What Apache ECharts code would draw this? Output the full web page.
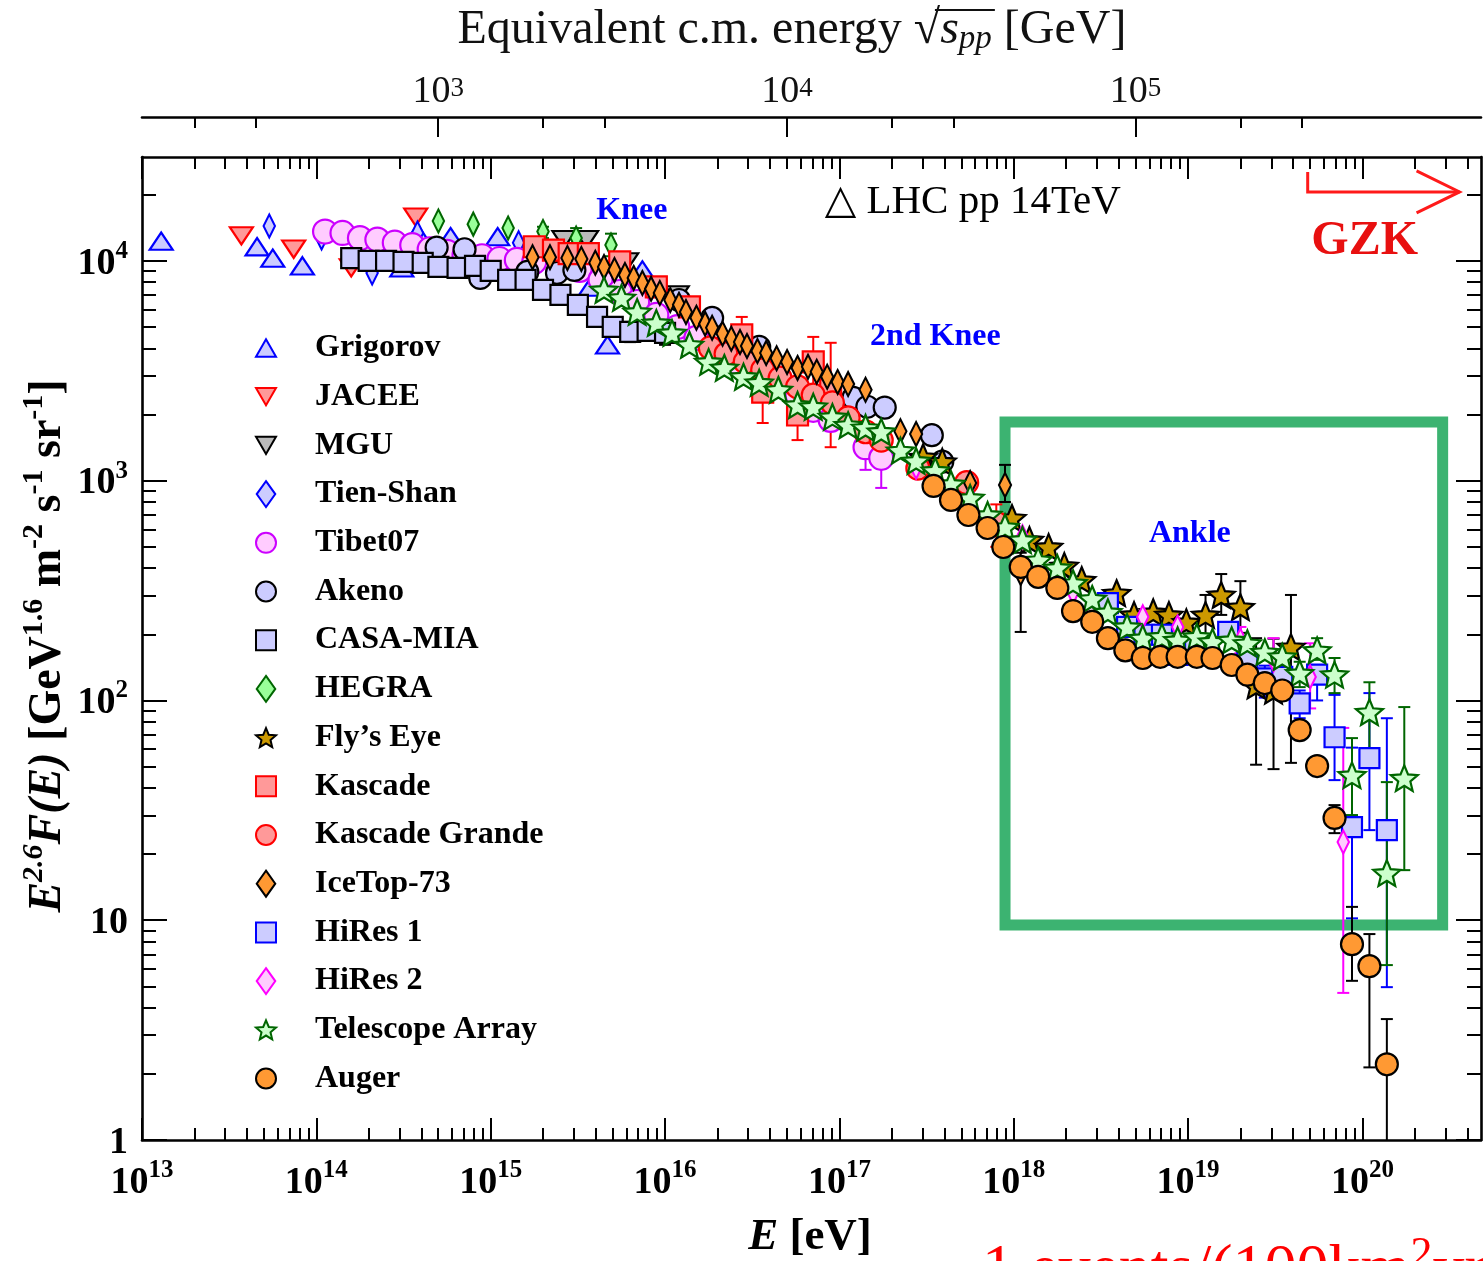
<!DOCTYPE html>
<html>
<head>
<meta charset="utf-8">
<title>Cosmic-ray all-particle energy spectrum</title>
<script src="https://cdn.jsdelivr.net/npm/echarts@6.0.0/dist/echarts.min.js"></script>
<style>
  html, body { margin: 0; padding: 0; background: #fff; }
  #chart { width: 1483px; height: 1261px; }
</style>
</head>
<body>
<div id="chart"></div>
<script>
// ---------- Measurements: [log10(E / eV), E^2.6 F(E)] ----------
const grigorov = [[13.11,12300],[13.66,11600],[13.75,10300],[13.92,9500],[14.49,9300],[14.58,13400],[14.77,12900],[15.04,12900],[15.57,7600],[15.67,4150],[15.87,9100]];
const jacee = [[13.57,13000],[13.87,11300],[14.20,9300],[14.57,15800]];
const mgu = [[15.42,12500],[15.55,12500],[15.78,9900],[16.07,7000]];
const tienShan = [[13.73,14400],[14.03,12700],[14.32,8800],[14.58,13400],[15.16,12100]];
const tibet07 = [[14.05,13600],[14.15,13400],[14.25,12700],[14.35,12500],[14.45,12100],[14.55,11800],[14.65,11300],[14.75,11000],[14.85,10600],[14.95,10500],[15.05,10200],[15.15,10100],[15.25,9900],[15.51,9100],[15.63,8200],[15.74,7220],[15.84,6500],[15.95,5680],[16.07,5000],[16.18,4460],[16.30,3930],[16.41,3470],[16.53,3090],[16.64,2720],[16.76,2450],[16.85,2100],[16.95,1890],[17.15,1420],[17.24,1270]];
const tibet07Err = [[17.15,1120,1560],[17.24,927,1450]];
const akeno = [[14.69,11500],[14.85,11300],[14.94,8370],[15.21,8910],[15.38,8820],[15.48,9100],[16.08,6640],[16.27,5500],[16.54,4060],[17.08,2380],[17.16,2170],[17.26,2150],[17.53,1610],[17.59,1220]];
const casaMia = [[14.20,10300],[14.30,10000],[14.40,10000],[14.50,9900],[14.61,9800],[14.70,9390],[14.81,9290],[14.91,9490],[15.00,9000],[15.10,8200],[15.20,8200],[15.30,7380],[15.40,7000],[15.50,6310],[15.61,5560],[15.70,5010],[15.80,4750],[15.90,4800],[16.00,4700]];
const casaMiaErr = [[15.80,4270,5280],[15.90,4500,5120],[16.00,4150,5320]];
const hegra = [[14.70,15200],[14.90,14700],[15.10,14100],[15.30,13600],[15.49,12700],[15.69,11800]];
const hegraErr = [[15.30,12700,14300],[15.49,11500,14100],[15.69,10500,13300]];
const flysEye = [[17.48,1280],[17.59,1220],[17.99,676],[18.09,537],[18.20,499],[18.29,409],[18.39,353],[18.59,308],[18.69,245],[18.80,252],[18.89,245],[18.99,227],[19.10,245],[19.19,302],[19.30,266],[19.39,117],[19.49,111],[19.59,175]];
const flysEyeErr = [[19.10,198,302],[19.19,245,376],[19.30,203,349],[19.39,51,192],[19.49,48.7,191],[19.59,52,302]];
const kascade = [[15.25,11600],[15.36,11200],[15.45,10800],[15.56,10800],[15.74,9900],[15.95,7610],[16.14,6180],[16.44,4610],[16.56,2530],[16.76,1990],[16.85,3470],[16.95,2590]];
const kascadeErr = [[16.44,3190,5560],[16.56,1830,3430],[16.76,1530,2590],[16.85,2590,4510],[16.95,1420,4240]];
const kascadeGrande = [[16.26,4020],[16.35,3770],[16.46,3470],[16.56,3190],[16.66,2930],[16.76,2670],[16.85,2450],[16.96,2260],[17.05,1930],[17.15,1670],[17.24,1530],[17.45,1140],[17.73,980],[17.90,640]];
const kascadeGrandeErr = [[17.90,500,780]];
const iceTop73 = [[15.24,10400],[15.34,10400],[15.44,10300],[15.52,10200],[15.60,9800],[15.65,9390],[15.71,9100],[15.77,8630],[15.82,8370],[15.87,7940],[15.92,7460],[15.97,7150],[16.03,6640],[16.08,6310],[16.12,5860],[16.18,5510],[16.23,5170],[16.27,4960],[16.33,4660],[16.38,4420],[16.43,4280],[16.47,4100],[16.53,3890],[16.58,3810],[16.64,3610],[16.70,3470],[16.76,3260],[16.82,3300],[16.87,3130],[16.93,2970],[16.99,2810],[17.05,2750],[17.15,2590],[17.35,1680],[17.44,1630],[17.75,977],[17.95,955],[18.04,380]];
const iceTop73Err = [[17.95,800,1180],[18.04,205,470]];
const hiRes1 = [[18.54,277],[18.65,216],[18.75,199],[18.85,199],[18.94,161],[19.04,173],[19.23,205],[19.34,153],[19.44,126],[19.54,128],[19.64,97],[19.74,131],[19.84,68],[19.94,26.5],[20.04,54.7],[20.14,25.7]];
const hiRes1Err = [[19.44,103,144],[19.54,104,137],[19.64,83,111],[19.74,100,142],[19.84,43.4,106],[19.94,10.2,61],[20.04,25.7,108],[20.14,4.96,83]];
const hiRes2 = [[17.44,1150],[17.75,843],[18.05,555],[18.34,311],[18.44,266],[18.74,240],[18.94,216],[19.30,188],[19.49,153],[19.70,128],[19.89,22.7]];
const hiRes2Err = [[19.30,164,216],[19.49,124,192],[19.70,92,182],[19.89,4.67,75]];
const telescopeArray = [[15.65,7380],[15.75,6790],[15.84,5860],[15.95,5220],[16.04,4700],[16.14,4150],[16.25,3470],[16.34,3260],[16.45,2970],[16.54,2790],[16.65,2590],[16.76,2210],[16.85,2170],[16.96,1950],[17.05,1790],[17.15,1740],[17.24,1670],[17.35,1370],[17.44,1230],[17.55,1110],[17.64,966],[17.75,834],[17.85,698],[17.95,615],[18.05,537],[18.14,435],[18.25,401],[18.34,342],[18.45,290],[18.54,252],[18.65,216],[18.74,192],[18.85,195],[18.94,188],[19.05,195],[19.14,185],[19.25,188],[19.34,182],[19.44,166],[19.54,158],[19.64,133],[19.74,169],[19.84,131],[19.94,45.7],[20.04,88.5],[20.14,16.4],[20.24,44.3]];
const telescopeArrayErr = [[19.64,115,150],[19.74,153,192],[19.84,108,156],[19.94,30.1,67.4],[20.04,59.4,121],[20.14,6.25,42.5],[20.24,16.9,93.3]];
const auger = [[17.54,946],[17.64,817],[17.74,698],[17.85,609],[17.94,499],[18.04,405],[18.14,365],[18.25,325],[18.34,255],[18.45,228],[18.54,192],[18.64,169],[18.74,156],[18.84,158],[18.94,158],[19.05,158],[19.14,156],[19.25,145],[19.34,131],[19.44,120],[19.54,111],[19.64,73.3],[19.74,50.3],[19.84,29.2],[19.94,7.78],[20.04,6.18],[20.14,2.21]];
const augerErr = [[19.84,24.9,33.4],[19.94,5.3,11.5],[20.04,2.14,8.65],[20.14,0.5,3.55]];

// Region of interest [lgE1, F1, lgE2, F2] and GZK cut-off marker [lgE start, F top, F line, lgE tip]
const ankleBox = [17.95, 1850, 20.46, 9.5];
const gzkArrow = [19.686, 25400, 20600, 20.557];
// Text notes [text, lgE, F]
const notes = [
  ['Knee', 15.81, 17000],
  ['2nd Knee', 17.55, 4510],
  ['Ankle', 19.01, 573],
  ['GZK', 20.013, 12200],
  ['\u25B3 LHC pp 14TeV', 16.99, 18550]
];

// Axis ranges
const lgMin = 13, lgMax = 20.68;
const fMin = 1, fMax = 2.97e4;
const xDecadeExp = [13, 14, 15, 16, 17, 18, 19, 20];
const yDecadeExp = [0, 1, 2, 3, 4];
const sDecadeExp = [3, 4, 5];

// ---------- helpers ----------
const serif = "'Liberation Serif', 'DejaVu Serif', serif";
const eMin = Math.pow(10, lgMin), eMax = Math.pow(10, lgMax);
const mp = 1.0; // proton mass, GeV (rounded)
const rootS = eV => Math.sqrt(2 * mp * eV / 1e9); // fixed-target equivalent sqrt(s) in GeV

const xMajor = xDecadeExp.map(n => Math.pow(10, n));
const xMinor = [];
xDecadeExp.forEach(n => { for (let k = 2; k <= 9; k++) { const v = k * Math.pow(10, n); if (v < eMax) xMinor.push(v); } });
const yMajor = yDecadeExp.map(n => Math.pow(10, n));
const yMinor = [];
yDecadeExp.forEach(n => { for (let k = 2; k <= 9; k++) { const v = k * Math.pow(10, n); if (v < fMax) yMinor.push(v); } });
const sMajor = sDecadeExp.map(n => Math.pow(10, n));
const sMinor = [];
[2, 3, 4, 5].forEach(n => [2, 3].forEach(k => { const v = k * Math.pow(10, n); if (v > rootS(eMin) && v < rootS(eMax)) sMinor.push(v); }));

const boldRich = {
  b: { fontFamily: serif, fontWeight: 'bold', fontSize: 38, lineHeight: 44, verticalAlign: 'bottom', color: '#000' },
  s: { fontFamily: serif, fontWeight: 'bold', fontSize: 25, lineHeight: 10, verticalAlign: 'top', color: '#000' }
};
const thinRich = {
  b: { fontFamily: serif, fontSize: 38, lineHeight: 36, verticalAlign: 'bottom', color: '#111' },
  s: { fontFamily: serif, fontSize: 27, lineHeight: 6, verticalAlign: 'top', color: '#111' }
};
function powLabel(v) {
  const e = Math.round(Math.log10(v));
  if (e === 0) return '{b|1}';
  if (e === 1) return '{b|10}';
  return '{b|10}{s|' + e + '}';
}

const axisLine = { show: true, onZero: false, lineStyle: { color: '#000', width: 2.6 } };
function tick(len, values) { return { show: true, inside: true, length: len, customValues: values, lineStyle: { color: '#000', width: 2 } }; }
function logAxis(extra) {
  return Object.assign({
    type: 'log', logBase: 10, silent: true,
    splitLine: { show: false }, minorTick: { show: false }, minorSplitLine: { show: false },
    axisLine: { show: false }, axisLabel: { show: false }
  }, extra);
}

// ---------- symbols ----------
const SYM = {
  triUp: 'path://M10,0L20,17.3L0,17.3Z',
  triDown: 'path://M0,0L20,0L10,17.3Z',
  diamond: 'path://M5,0L10,7L5,14L0,7Z',
  circle: 'circle',
  square: 'path://M0,0L10,0L10,10L0,10Z',
  star: 'path://M10,0L12.65,6.36L19.51,6.91L14.28,11.39L15.88,18.09L10,14.5L4.12,18.09L5.72,11.39L0.49,6.91L7.35,6.36Z'
};

const series = [];
const legendNames = [];
function errRender(color) {
  return function (params, api) {
    const x = api.value(0);
    const lo = api.coord([x, api.value(1)]);
    const hi = api.coord([x, api.value(2)]);
    const c = 6;
    const st = { stroke: color, lineWidth: 2 };
    return {
      type: 'group',
      children: [
        { type: 'line', shape: { x1: hi[0], y1: hi[1], x2: lo[0], y2: lo[1] }, style: st },
        { type: 'line', shape: { x1: hi[0] - c, y1: hi[1], x2: hi[0] + c, y2: hi[1] }, style: st },
        { type: 'line', shape: { x1: lo[0] - c, y1: lo[1], x2: lo[0] + c, y2: lo[1] }, style: st }
      ]
    };
  };
}
function addSet(name, pts, err, symbol, size, fill, stroke) {
  if (err) {
    series.push({
      type: 'custom', name: name + ' (errors)', renderItem: errRender(stroke), clip: true, silent: true,
      data: err.map(d => [Math.pow(10, d[0]), d[1], d[2]]), encode: { x: 0, y: [1, 2] }
    });
  }
  series.push({
    type: 'scatter', name, silent: true,
    data: pts.map(d => [Math.pow(10, d[0]), d[1]]),
    symbol, symbolSize: size, symbolKeepAspect: true,
    itemStyle: { color: fill, borderColor: stroke, borderWidth: 2.2, opacity: 1 },
    emphasis: { disabled: true }
  });
  legendNames.push(name);
}

// region-of-interest frame (drawn beneath the data)
series.push({
  type: 'custom', name: 'roi', silent: true, z: 1, clip: false,
  data: [[Math.pow(10, ankleBox[0]), ankleBox[1], Math.pow(10, ankleBox[2]), ankleBox[3]]],
  encode: { x: [0, 2], y: [1, 3] },
  renderItem: function (params, api) {
    const a = api.coord([api.value(0), api.value(1)]);
    const b = api.coord([api.value(2), api.value(3)]);
    return { type: 'rect', shape: { x: a[0], y: a[1], width: b[0] - a[0], height: b[1] - a[1] },
      style: { fill: 'none', stroke: '#3cb371', lineWidth: 11 } };
  }
});

addSet('Grigorov', grigorov, null, SYM.triUp, [23, 20], '#ccccff', '#0000ff');
addSet('JACEE', jacee, null, SYM.triDown, [23, 20], '#ff9999', '#ff0000');
addSet('MGU', mgu, null, SYM.triDown, [23, 20], '#bbbbbb', '#000000');
addSet('Tien-Shan', tienShan, null, SYM.diamond, [16, 23], '#ccccff', '#0000ff');
addSet('Tibet07', tibet07, tibet07Err, SYM.circle, 24, '#ffccff', '#cc00ff');
addSet('Akeno', akeno, null, SYM.circle, 22, '#ccccff', '#000000');
addSet('CASA-MIA', casaMia, casaMiaErr, SYM.square, 20, '#ccccff', '#000000');
addSet('HEGRA', hegra, hegraErr, SYM.diamond, [16, 23], '#99ff99', '#006600');
addSet('Fly\u2019s Eye', flysEye, flysEyeErr, SYM.star, 27, '#cc9900', '#000000');
addSet('Kascade', kascade, kascadeErr, SYM.square, 21, '#ff9999', '#ff0000');
addSet('Kascade Grande', kascadeGrande, kascadeGrandeErr, SYM.circle, 23, '#ff9999', '#ff0000');
addSet('IceTop-73', iceTop73, iceTop73Err, SYM.diamond, [17, 24], '#ff9933', '#000000');
addSet('HiRes 1', hiRes1, hiRes1Err, SYM.square, 20, '#ccccff', '#0000ff');
addSet('HiRes 2', hiRes2, hiRes2Err, SYM.diamond, [16, 23], '#ffccff', '#ff00ff');
addSet('Telescope Array', telescopeArray, telescopeArrayErr, SYM.star, 27, '#ccffcc', '#006600');
addSet('Auger', auger, augerErr, SYM.circle, 22, '#ff9933', '#000000');

// GZK cut-off marker
series.push({
  type: 'custom', name: 'gzk', silent: true, z: 5, clip: false,
  data: [[Math.pow(10, gzkArrow[0]), gzkArrow[1], gzkArrow[2], Math.pow(10, gzkArrow[3])]],
  encode: { x: [0, 3], y: [1, 2] },
  renderItem: function (params, api) {
    const a = api.coord([api.value(0), api.value(1)]);
    const b = api.coord([api.value(0), api.value(2)]);
    const c = api.coord([api.value(3), api.value(2)]);
    const st = { stroke: '#ff1a1a', lineWidth: 3, fill: 'none' };
    return {
      type: 'group',
      children: [
        { type: 'polyline', shape: { points: [a, b, c] }, style: st },
        { type: 'polyline', shape: { points: [[c[0] - 43, c[1] - 21], c, [c[0] - 43, c[1] + 21]] }, style: st }
      ]
    };
  }
});

// text notes
const noteStyle = {
  'Knee': { color: '#0000ff', fontWeight: 'bold', fontSize: 32, align: 'center' },
  '2nd Knee': { color: '#0000ff', fontWeight: 'bold', fontSize: 32, align: 'center' },
  'Ankle': { color: '#0000ff', fontWeight: 'bold', fontSize: 32, align: 'center' },
  'GZK': { color: '#e81010', fontWeight: 'bold', fontSize: 48, align: 'center' },
  '\u25B3 LHC pp 14TeV': { color: '#000', fontWeight: 'normal', fontSize: 41, align: 'left', offset: [-13, 0] }
};
series.push({
  type: 'scatter', name: 'notes', silent: true, z: 10, symbolSize: 0,
  itemStyle: { color: 'transparent', opacity: 1 },
  data: notes.map(n => ({
    value: [Math.pow(10, n[1]), n[2]],
    label: Object.assign({ show: true, position: 'inside', formatter: n[0], fontFamily: serif, verticalAlign: 'middle',
      opacity: 1, textBorderWidth: 0, textBorderColor: 'transparent', textShadowBlur: 0 }, noteStyle[n[0]])
  }))
});

// ---------- title text measurements ----------
const mctx = document.createElement('canvas').getContext('2d');
function tw(t, font) { mctx.font = font; return mctx.measureText(t).width; }
const T_FS = 48, T_SUB = 33;
const tLead = 'Equivalent c.m. energy ', tRoot = '\u221A', tS = 's', tSub = 'pp', tTail = ' [GeV]';
const fN = T_FS + 'px ' + serif, fI = 'italic ' + T_FS + 'px ' + serif, fSub = 'italic ' + T_SUB + 'px ' + serif;
const wLead = tw(tLead, fN), wRoot = tw(tRoot, fN), wS = tw(tS, fI), wSub = tw(tSub, fSub), wTail = tw(tTail, fN);
const tTotal = wLead + wRoot + wS + wSub + wTail;
const tX0 = 792 - tTotal / 2;

const chart = echarts.init(document.getElementById('chart'), null, { renderer: 'canvas' });
chart.setOption({
  animation: false,
  backgroundColor: '#ffffff',
  grid: { left: 142, right: 2, top: 157, bottom: 121, containLabel: false, outerBoundsMode: 'none' },
  legend: {
    data: legendNames, orient: 'vertical', left: 255, top: 332, padding: 0,
    itemWidth: 20, itemHeight: 26, itemGap: 16.7, selectedMode: false,
    formatter: n => '{g|\u00a0}{t|' + n + '}',
    textStyle: {
      fontFamily: serif, fontWeight: 'bold', fontSize: 32, color: '#000',
      rich: { g: { width: 34 }, t: { fontFamily: serif, fontWeight: 'bold', fontSize: 32, lineHeight: 30, color: '#000' } }
    }
  },
  xAxis: [
    logAxis({ position: 'bottom', min: eMin, max: eMax, axisLine, axisTick: tick(22, xMajor),
      axisLabel: { show: true, customValues: xMajor, formatter: powLabel, rich: boldRich, margin: 18 } }),
    logAxis({ position: 'bottom', min: eMin, max: eMax, axisTick: tick(12, xMinor) }),
    logAxis({ position: 'top', min: eMin, max: eMax, axisLine, axisTick: tick(22, xMajor) }),
    logAxis({ position: 'top', min: eMin, max: eMax, axisTick: tick(12, xMinor) }),
    logAxis({ position: 'top', offset: 40, min: rootS(eMin), max: rootS(eMax), axisLine, axisTick: tick(20, sMajor),
      axisLabel: { show: true, customValues: sMajor, formatter: powLabel, rich: thinRich, margin: 6 } }),
    logAxis({ position: 'top', offset: 40, min: rootS(eMin), max: rootS(eMax), axisTick: tick(11, sMinor) })
  ],
  yAxis: [
    logAxis({ position: 'left', min: fMin, max: fMax, axisLine, axisTick: tick(25, yMajor),
      axisLabel: { show: true, customValues: yMajor, formatter: powLabel, rich: boldRich, margin: 14 } }),
    logAxis({ position: 'left', min: fMin, max: fMax, axisTick: tick(14, yMinor) }),
    logAxis({ position: 'right', min: fMin, max: fMax, axisLine, axisTick: tick(25, yMajor) }),
    logAxis({ position: 'right', min: fMin, max: fMax, axisTick: tick(14, yMinor) })
  ],
  series,
  graphic: [
    { // upper axis title
      type: 'text', x: tX0, y: 30, silent: true,
      style: {
        text: '{n|' + tLead + '}{n|' + tRoot + '}{i|' + tS + '}{sub|' + tSub + '}{n|' + tTail + '}',
        align: 'left', verticalAlign: 'middle',
        rich: {
          n: { fontFamily: serif, fontSize: T_FS, lineHeight: 52, verticalAlign: 'middle', fill: '#111' },
          i: { fontFamily: serif, fontStyle: 'italic', fontSize: T_FS, lineHeight: 52, verticalAlign: 'middle', fill: '#111' },
          sub: { fontFamily: serif, fontStyle: 'italic', fontSize: T_SUB, lineHeight: 32, verticalAlign: 'bottom', fill: '#111' }
        }
      }
    },
    { // radical bar over s_pp
      type: 'line', silent: true,
      shape: { x1: tX0 + wLead + wRoot * 0.8, y1: 10, x2: tX0 + wLead + wRoot + wS + wSub + 3, y2: 10 },
      style: { stroke: '#111', lineWidth: 2 }
    },
    { // vertical axis title
      type: 'text', x: 45, y: 646, rotation: Math.PI / 2, silent: true,
      style: {
        text: '{i|E}{si|2.6}{i|F(E)}{b| [GeV}{s|1.6}{b| m}{s|-2}{b| s}{s|-1}{b| sr}{s|-1}{b|]}',
        align: 'center', verticalAlign: 'middle',
        rich: {
          i: { fontFamily: serif, fontStyle: 'italic', fontWeight: 'bold', fontSize: 46, lineHeight: 52, verticalAlign: 'bottom', fill: '#000' },
          si: { fontFamily: serif, fontStyle: 'italic', fontWeight: 'bold', fontSize: 30, lineHeight: 18, verticalAlign: 'top', fill: '#000' },
          b: { fontFamily: serif, fontWeight: 'bold', fontSize: 46, lineHeight: 52, verticalAlign: 'bottom', fill: '#000' },
          s: { fontFamily: serif, fontWeight: 'bold', fontSize: 30, lineHeight: 18, verticalAlign: 'top', fill: '#000' }
        }
      }
    },
    { // horizontal axis title
      type: 'text', x: 810, y: 1237, silent: true,
      style: {
        text: '{i|E}{b| [eV]}', align: 'center', verticalAlign: 'middle',
        rich: {
          i: { fontFamily: serif, fontStyle: 'italic', fontWeight: 'bold', fontSize: 45, fill: '#000' },
          b: { fontFamily: serif, fontWeight: 'bold', fontSize: 45, fill: '#000' }
        }
      }
    },
    { // event-rate scale note
      type: 'text', x: 982, y: 1268, silent: true,
      style: {
        text: '{r|1 events/(100km}{s|2}{r|yr)}', align: 'left', verticalAlign: 'middle',
        rich: {
          r: { fontFamily: serif, fontSize: 64, lineHeight: 70, verticalAlign: 'bottom', fill: '#ff0000' },
          s: { fontFamily: serif, fontSize: 44, lineHeight: 26, verticalAlign: 'top', fill: '#ff0000' }
        }
      }
    }
  ]
});
</script>
</body>
</html>
